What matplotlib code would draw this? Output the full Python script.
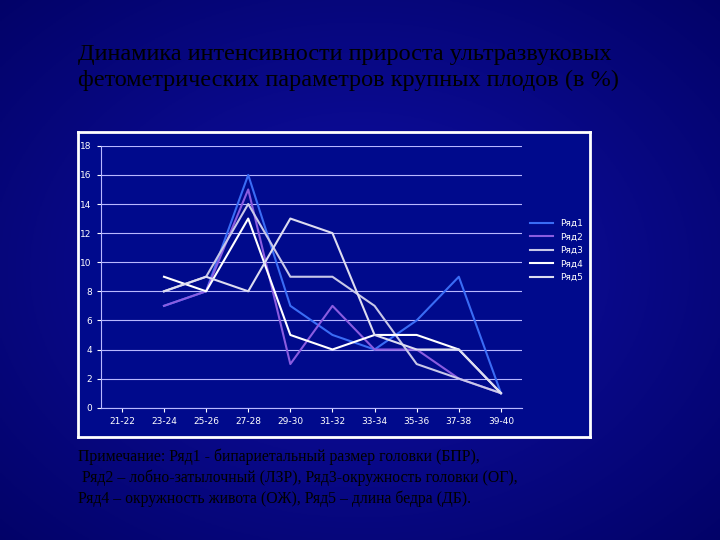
import matplotlib
matplotlib.use("Agg")
import matplotlib.pyplot as plt
import numpy as np

categories = ["21-22","23-24","25-26","27-28","29-30","31-32","33-34","35-36","37-38","39-40"]
r1 = [None, 7, 8, 16, 7, 5, 4, 6, 9, 1]
r2 = [None, 7, 8, 15, 3, 7, 4, 4, 2, 1]
r3 = [None, 8, 9, 14, 9, 9, 7, 3, 2, 1]
r4 = [None, 9, 8, 13, 5, 4, 5, 5, 4, 1]
r5 = [None, 8, 9, 8, 13, 12, 5, 4, 4, 1]
names = ["Ряд1","Ряд2","Ряд3","Ряд4","Ряд5"]
colors = ["#3a6cf5", "#8a5ce0", "#c8c8e8", "#ffffff", "#dcdcf0"]

fig = plt.figure(figsize=(7.2, 5.4), dpi=100)
bg = fig.add_axes([0, 0, 1, 1])
xx, yy = np.meshgrid(np.linspace(-1, 1, 256), np.linspace(-1, 1, 256))
r = np.sqrt(xx**2 + yy**2) / 1.414
img = np.dstack([0.06 - 0.05*r, 0.06 - 0.05*r, 0.66 - 0.25*r])
bg.imshow(img, aspect="auto", extent=[0, 1, 0, 1])
bg.set_axis_off()

fig.text(0.108, 0.875, "Динамика интенсивности прироста ультразвуковых\nфетометрических параметров крупных плодов (в %)",
         color="black", fontsize=17.5, family="Liberation Serif", va="center", linespacing=1.3)

panel = fig.add_axes([0.108, 0.19, 0.712, 0.565])
panel.set_facecolor("#000a8c")
panel.set_xticks([]); panel.set_yticks([])
for s in panel.spines.values():
    s.set_color("white"); s.set_linewidth(2)

ax = fig.add_axes([0.14, 0.245, 0.585, 0.485])
ax.set_facecolor("none")
x = np.arange(len(categories))
for vals, n, c in zip([r1, r2, r3, r4, r5], names, colors):
    y = np.array([np.nan if v is None else v for v in vals], dtype=float)
    ax.plot(x, y, color=c, lw=1.5, label=n)
ax.set_xlim(-0.5, len(categories) - 0.5)
ax.set_ylim(0, 18)
ax.set_yticks(range(0, 19, 2))
ax.set_xticks(x)
ax.set_xticklabels(categories)
ax.tick_params(colors="white", labelsize=6.5, length=3)
ax.grid(axis="y", color="#b8b8ff", lw=0.8)
ax.set_axisbelow(True)
for k in ["top", "right"]:
    ax.spines[k].set_visible(False)
for k in ["left", "bottom"]:
    ax.spines[k].set_color("#b8b8ff")
leg = ax.legend(loc="center left", bbox_to_anchor=(1.0, 0.6), frameon=False, fontsize=6.5,
                labelcolor="white", handlelength=2.5)

fig.text(0.108, 0.115, "Примечание: Ряд1 - бипариетальный размер головки (БПР),\n Ряд2 – лобно-затылочный (ЛЗР), Ряд3-окружность головки (ОГ),\nРяд4 – окружность живота (ОЖ), Ряд5 – длина бедра (ДБ).",
         color="black", fontsize=11.3, family="Liberation Serif", va="center", linespacing=1.35)

fig.savefig("out.png", dpi=100)
